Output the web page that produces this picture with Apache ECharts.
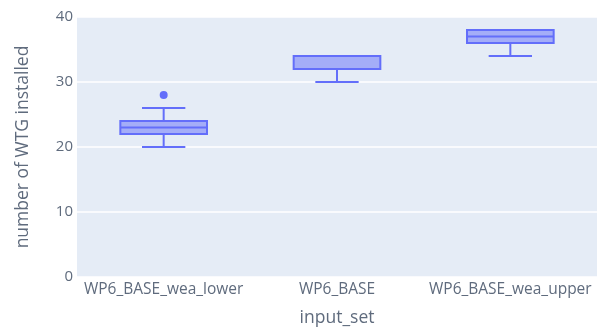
<!DOCTYPE html>
<html><head><meta charset="utf-8">
<script src="https://cdn.jsdelivr.net/npm/echarts@6/dist/echarts.min.js"></script>
<style>html,body{margin:0;padding:0;background:#fff}#c{width:598px;height:332px}</style>
</head><body><div id="c"></div>
<script>
const categories = ['WP6_BASE_wea_lower', 'WP6_BASE', 'WP6_BASE_wea_upper'];
const lowerWhisker = [20, 30, 34];
const q1 = [22, 32, 36];
const median = [23, 32, 37];
const q3 = [24, 34, 38];
const upperWhisker = [26, 34, 38];
const outlierCategory = ['WP6_BASE_wea_lower'];
const outlierValue = [28];
const yTicks = [0, 10, 20, 30, 40];

const boxData = categories.map((c, i) => [i, lowerWhisker[i], q1[i], median[i], q3[i], upperWhisker[i]]);
const outliers = outlierCategory.map((c, i) => [c, outlierValue[i]]);

const LINE = '#636efa';
const FILL = 'rgba(99,110,250,0.5)';
const TXT = '#5f6b7d';

function renderBox(params, api) {
  const idx = api.value(0);
  const bandW = api.size([1, 0])[0];
  const boxW = bandW * 0.5;
  const capW = boxW * 0.5;
  const pMin = api.coord([idx, api.value(1)]);
  const pQ1 = api.coord([idx, api.value(2)]);
  const pMed = api.coord([idx, api.value(3)]);
  const pQ3 = api.coord([idx, api.value(4)]);
  const pMax = api.coord([idx, api.value(5)]);
  const cx = pQ1[0];
  const ls = {stroke: LINE, lineWidth: 2, fill: null};
  const children = [
    {type: 'rect', shape: {x: cx - boxW / 2, y: pQ3[1], width: boxW, height: pQ1[1] - pQ3[1]},
     style: {fill: FILL, stroke: LINE, lineWidth: 2}},
    {type: 'line', shape: {x1: cx - boxW / 2, y1: pMed[1], x2: cx + boxW / 2, y2: pMed[1]}, style: ls}
  ];
  if (pMin[1] !== pQ1[1]) {
    children.push({type: 'line', shape: {x1: cx, y1: pQ1[1], x2: cx, y2: pMin[1]}, style: ls});
    children.push({type: 'line', shape: {x1: cx - capW / 2, y1: pMin[1], x2: cx + capW / 2, y2: pMin[1]}, style: ls});
  }
  if (pMax[1] !== pQ3[1]) {
    children.push({type: 'line', shape: {x1: cx, y1: pQ3[1], x2: cx, y2: pMax[1]}, style: ls});
    children.push({type: 'line', shape: {x1: cx - capW / 2, y1: pMax[1], x2: cx + capW / 2, y2: pMax[1]}, style: ls});
  }
  return {type: 'group', children};
}

const chart = echarts.init(document.getElementById('c'), null, {renderer: 'canvas'});
chart.setOption({
  animation: false,
  backgroundColor: '#fff',
  grid: {left: 77, right: 1, top: 17, bottom: 54, backgroundColor: '#e5ecf6', show: true, borderWidth: 0},
  xAxis: {
    type: 'category', data: categories, boundaryGap: true,
    axisLine: {show: false}, axisTick: {show: false}, splitLine: {show: false},
    axisLabel: {color: TXT, fontFamily: 'Open Sans', fontSize: 15.5, margin: 5, interval: 0, hideOverlap: false},
    name: 'input_set', nameLocation: 'middle', nameGap: 32,
    nameTextStyle: {color: TXT, fontFamily: 'Open Sans', fontSize: 17.5}
  },
  yAxis: {
    type: 'value', min: yTicks[0], max: yTicks[yTicks.length - 1], interval: 10,
    axisLine: {show: false}, axisTick: {show: false},
    splitLine: {lineStyle: {color: '#ffffff', width: 1.5}},
    axisLabel: {color: TXT, fontFamily: 'Open Sans', fontSize: 15, margin: 4},
    name: 'number of WTG installed', nameLocation: 'middle', nameGap: 45,
    nameTextStyle: {color: TXT, fontFamily: 'Open Sans', fontSize: 17.5}
  },
  series: [
    {
      type: 'custom', data: boxData, renderItem: renderBox,
      encode: {x: 0, y: [1, 2, 3, 4, 5]}
    },
    {
      type: 'scatter', data: outliers, symbolSize: 8,
      itemStyle: {color: LINE, opacity: 1}
    }
  ]
});
</script></body></html>
